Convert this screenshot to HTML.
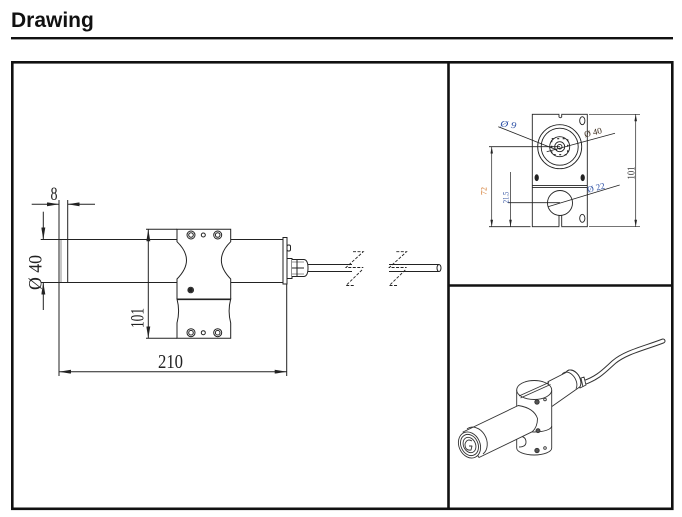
<!DOCTYPE html>
<html><head><meta charset="utf-8"><style>
html,body{margin:0;padding:0;background:#fff;}
body{width:682px;height:517px;overflow:hidden;}
svg{display:block;}
</style></head><body>
<svg width="682" height="517" viewBox="0 0 682 517" xmlns="http://www.w3.org/2000/svg">
<defs>
<marker id="a" viewBox="0 0 12 4" refX="12" refY="2" markerWidth="12" markerHeight="4" markerUnits="userSpaceOnUse" orient="auto-start-reverse"><path d="M0,0 L12,2 L0,4z" fill="#222"/></marker>
<marker id="s" viewBox="0 0 8 3" refX="8" refY="1.5" markerWidth="7" markerHeight="2.6" markerUnits="userSpaceOnUse" orient="auto-start-reverse"><path d="M0,0 L8,1.5 L0,3z" fill="#222"/></marker>
</defs>

<!-- Header -->
<text x="11" y="27" font-family="Liberation Sans, Arial, sans-serif" font-weight="bold" font-size="21" fill="#111">Drawing</text>
<rect x="11" y="37" width="662" height="2.4" fill="#111"/>

<!-- Frames -->
<g fill="none" stroke="#111" stroke-width="2.6">
<rect x="12.3" y="62.3" width="660" height="446.5"/>
<line x1="448.5" y1="62" x2="448.5" y2="509"/>
<line x1="448.5" y1="285.5" x2="672" y2="285.5"/>
</g>

<!-- LEFT DRAWING -->
<g fill="none" stroke="#222" stroke-width="1">
<!-- tube -->
<line x1="59" y1="239.5" x2="283" y2="239.5"/>
<line x1="59" y1="282.5" x2="283" y2="282.5"/>
<line x1="59" y1="200" x2="59" y2="376"/>
<line x1="67.7" y1="200" x2="67.7" y2="282.5"/>
<line x1="61" y1="239.5" x2="61" y2="282.5" stroke-width="0.5"/>
<!-- end cap -->
<rect x="283" y="237.5" width="4" height="46.5" fill="#fff"/>
<rect x="287" y="245" width="3.5" height="6" rx="1.5" fill="#fff"/>
<line x1="286.7" y1="284" x2="286.7" y2="376"/>
<!-- gland -->
<rect x="287" y="258.5" width="5" height="20" fill="#fff"/>
<path d="M292,259.5 H304 Q308,260 308,268 Q308,276 304,276.5 H292" fill="#fff"/>
<line x1="297" y1="259.5" x2="297" y2="276.5"/>
<line x1="292" y1="268" x2="304" y2="268"/>
<line x1="292" y1="262" x2="304" y2="262" stroke-width="0.5"/>
<line x1="292" y1="274" x2="304" y2="274" stroke-width="0.5"/>
<!-- cable -->
<line x1="308" y1="264.5" x2="352" y2="264.5"/>
<line x1="308" y1="271.5" x2="352" y2="271.5"/>
<line x1="389" y1="264.5" x2="439" y2="264.5"/>
<line x1="389" y1="271.5" x2="439" y2="271.5"/>
<ellipse cx="439" cy="268" rx="2" ry="3.5" fill="#fff"/>
<!-- break marks -->
<g stroke-dasharray="3,1.5" stroke-width="0.9">
<polyline points="353,251.7 363.3,251.7 346,267.5 363.3,267.5"/>
<polyline points="362,270 346,285.5 355,285.5"/>
<polyline points="396.3,251.7 406.6,251.7 389.3,267.5 406.6,267.5"/>
<polyline points="405.3,270 389.3,285.5 398.3,285.5"/>
</g>
<!-- clamp -->
<path d="M177,229.3 H230.7 V241.7 Q212,260 230.7,279 V299 H177 V279 Q196,260 177,241.7 Z" fill="#fff"/>
<path d="M177,299 H230.7 Q227.5,311 230.7,323 V338.3 H177 V323 Q180.2,311 177,299 Z" fill="#fff"/>
<line x1="177" y1="299.8" x2="230.7" y2="299.8" stroke-width="0.6"/>
<!-- holes top -->
<circle cx="191" cy="235" r="4"/><circle cx="191" cy="235" r="2.3"/>
<circle cx="203.3" cy="235" r="2"/>
<circle cx="217.7" cy="235" r="4"/><circle cx="217.7" cy="235" r="2.3"/>
<!-- holes bottom -->
<circle cx="191" cy="332.7" r="4"/><circle cx="191" cy="332.7" r="2.3"/>
<circle cx="203.3" cy="332.7" r="2"/>
<circle cx="217.7" cy="332.7" r="4"/><circle cx="217.7" cy="332.7" r="2.3"/>
<circle cx="190.7" cy="290" r="2.8"/>
<circle cx="190.7" cy="290" r="1.8" fill="#222"/>

<!-- dimension 8 -->
<line x1="31.7" y1="204.3" x2="59" y2="204.3" marker-end="url(#a)"/>
<line x1="95" y1="204.3" x2="67.7" y2="204.3" marker-end="url(#a)"/>
<!-- dimension dia 40 -->
<line x1="40.7" y1="239.5" x2="59" y2="239.5"/>
<line x1="40.7" y1="282.5" x2="59" y2="282.5"/>
<line x1="43.3" y1="211.7" x2="43.3" y2="239.5" marker-end="url(#a)"/>
<line x1="43.3" y1="310" x2="43.3" y2="282.5" marker-end="url(#a)"/>
<!-- dimension 101 -->
<line x1="146" y1="229.3" x2="177" y2="229.3"/>
<line x1="146" y1="338.3" x2="177" y2="338.3"/>
<line x1="148.3" y1="229.3" x2="148.3" y2="338.3" marker-start="url(#a)" marker-end="url(#a)"/>
<!-- dimension 210 -->
<line x1="59" y1="371.7" x2="286.7" y2="371.7" marker-start="url(#a)" marker-end="url(#a)"/>
</g>
<g font-family="Liberation Serif, Times New Roman, serif" fill="#222">
<text x="54" y="200" font-size="19" text-anchor="middle" textLength="7" lengthAdjust="spacingAndGlyphs">8</text>
<text transform="translate(41.5,272.5) rotate(-90)" font-size="19" text-anchor="middle" textLength="35" lengthAdjust="spacingAndGlyphs">Ø 40</text>
<text transform="translate(143.5,318) rotate(-90)" font-size="19" text-anchor="middle" textLength="20" lengthAdjust="spacingAndGlyphs">101</text>
<text x="170.5" y="368" font-size="20" text-anchor="middle" textLength="25" lengthAdjust="spacingAndGlyphs">210</text>
</g>

<!-- RIGHT TOP DRAWING -->
<g fill="none" stroke="#222" stroke-width="0.9">
<rect x="532.3" y="114.3" width="55" height="112.4" fill="#fff"/>
<path d="M559,114.3 V117 Q560.3,118.5 561.7,117 V114.3" />
<line x1="559.4" y1="114.3" x2="561.3" y2="114.3" stroke="#fff" stroke-width="1.5"/>
<line x1="532.3" y1="185.6" x2="587.3" y2="185.6"/>
<line x1="532.3" y1="187.4" x2="587.3" y2="187.4"/>
<circle cx="559.7" cy="146.7" r="22"/>
<circle cx="559.7" cy="146.7" r="18.5"/>
<circle cx="559.7" cy="146.7" r="10"/>
<rect x="551.7" y="138.7" width="16" height="16" stroke-dasharray="2,3.5" stroke-width="1.2"/>
<circle cx="559.7" cy="146.7" r="5"/>
<circle cx="559.7" cy="146.7" r="2.3"/>
<ellipse cx="536.7" cy="177.7" rx="1.7" ry="3" fill="#222"/>
<ellipse cx="582.7" cy="177.7" rx="1.7" ry="3" fill="#222"/>
<ellipse cx="582.3" cy="120.7" rx="2.6" ry="4"/>
<ellipse cx="582.3" cy="218.3" rx="2.6" ry="4"/>
<circle cx="560" cy="203" r="12.5"/>
<path d="M559,215.4 V226.7 M561.7,215.4 V226.7"/>
<line x1="559.4" y1="226.7" x2="561.3" y2="226.7" stroke="#fff" stroke-width="1.5"/>
<!-- dim 101 -->
<line x1="589" y1="114.3" x2="640" y2="114.3" stroke-width="0.7"/>
<line x1="589" y1="226.7" x2="640" y2="226.7" stroke-width="0.7"/>
<line x1="635.7" y1="114.3" x2="635.7" y2="226.7" stroke-width="0.7" marker-start="url(#s)" marker-end="url(#s)"/>
<!-- dim 72 -->
<line x1="489" y1="146.7" x2="560" y2="146.7" stroke-width="0.8"/>
<line x1="489" y1="226.7" x2="530.5" y2="226.7" stroke-width="0.8"/>
<line x1="491.7" y1="146.7" x2="491.7" y2="226.7" stroke-width="0.7" marker-start="url(#s)" marker-end="url(#s)"/>
<!-- dim 21.5 -->
<line x1="508" y1="202.7" x2="560" y2="202.7" stroke-width="0.8"/>
<line x1="510.5" y1="172" x2="510.5" y2="226.7" stroke-width="0.7" marker-end="url(#s)"/>
<!-- leaders -->
<line x1="498.3" y1="126.7" x2="557" y2="150" stroke-width="0.8"/>
<line x1="615" y1="133.3" x2="546.7" y2="151.7" stroke-width="0.8"/>
<line x1="619.7" y1="185" x2="548" y2="206.7" stroke-width="0.8"/>
</g>
<g font-family="Liberation Serif, Times New Roman, serif">
<text transform="translate(500,126.3) rotate(8)" font-size="9" font-style="italic" fill="#2b4fa5" textLength="16" lengthAdjust="spacingAndGlyphs">Ø  9</text>
<text transform="translate(585,137.5) rotate(-14)" font-size="9" fill="#3a2a1a" textLength="18" lengthAdjust="spacingAndGlyphs">Ø  40</text>
<text transform="translate(588,192.8) rotate(-14)" font-size="9" fill="#2b4fa5" textLength="18" lengthAdjust="spacingAndGlyphs">Ø  22</text>
<text transform="translate(634.5,173) rotate(-90)" font-size="10" fill="#333" text-anchor="middle" textLength="13" lengthAdjust="spacingAndGlyphs">101</text>
<text transform="translate(486.5,191) rotate(-90)" font-size="8" fill="#d07020" text-anchor="middle" textLength="8" lengthAdjust="spacingAndGlyphs">72</text>
<text transform="translate(508.3,197.5) rotate(-90)" font-size="8" fill="#3050a0" text-anchor="middle" textLength="11.5" lengthAdjust="spacingAndGlyphs">21.5</text>
</g>

<!-- RIGHT BOTTOM ISOMETRIC -->
<g fill="none" stroke="#333" stroke-width="0.9" stroke-linejoin="round">
<!-- cable -->
<path d="M583,383 C598,378 604,371 614,362 C626,352 645,348 663,341" stroke="#333" stroke-width="5" stroke-linecap="round"/>
<path d="M583,383 C598,378 604,371 614,362 C626,352 645,348 663,341" stroke="#fff" stroke-width="3" stroke-linecap="round"/>
<!-- gland -->
<path d="M578,379 L584,377 L586,385 L580,388 Z" fill="#fff"/>
<line x1="581" y1="378" x2="583" y2="387"/>
<!-- right tube section -->
<path d="M548,381.7 L566,372.5 A6,9 -30 0 1 580,386.7 L551.5,406.7 Z" fill="#fff"/>
<path d="M566,372.5 A6,9 -30 0 1 580,386.7"/>
<path d="M562,374.6 A6,9 -30 0 1 576,388.7"/>
<!-- clamp lower cylinder -->
<path d="M516.7,390 V448 A17.5,7 0 0 0 551.7,448 V390 Z" fill="#fff"/>
<path d="M516.7,426 A17.5,6 0 0 0 551.7,426"/>
<path d="M518,436 Q526,436 526,442 Q526,447 519,447"/>
<!-- clamp top -->
<ellipse cx="534.2" cy="390" rx="17.5" ry="9.5" fill="#fff"/>
<line x1="519" y1="396" x2="549" y2="382.5"/>
<line x1="520.5" y1="398" x2="550.5" y2="384.5"/>
<!-- holes -->
<circle cx="537" cy="402" r="2.2" fill="#555"/>
<circle cx="545" cy="399.5" r="1.3"/>
<circle cx="538" cy="430.7" r="2" fill="#555"/>
<circle cx="537" cy="450.5" r="2.2" fill="#555"/>
<circle cx="545" cy="448" r="1.3"/>
<!-- main tube -->
<path d="M463,432 L518.3,405.5 Q534,408 537.5,418.5 Q537.5,427 532.3,431.7 L479,457.5 Z" fill="#fff"/>
<!-- end face -->
<ellipse cx="469.5" cy="445" rx="10.5" ry="13.5" transform="rotate(-25 469.5 445)" fill="#fff"/>
<ellipse cx="469.5" cy="445" rx="8.5" ry="11" transform="rotate(-25 469.5 445)"/>
<ellipse cx="469.5" cy="445" rx="6" ry="8" transform="rotate(-25 469.5 445)"/>
<path d="M472,441 Q467,438 465,444 Q465,451 471,450 L472,446 L469,446" />
<path d="M467,429 A10.5,13.5 -25 0 1 483,454" />
</g>
</svg>
</body></html>
